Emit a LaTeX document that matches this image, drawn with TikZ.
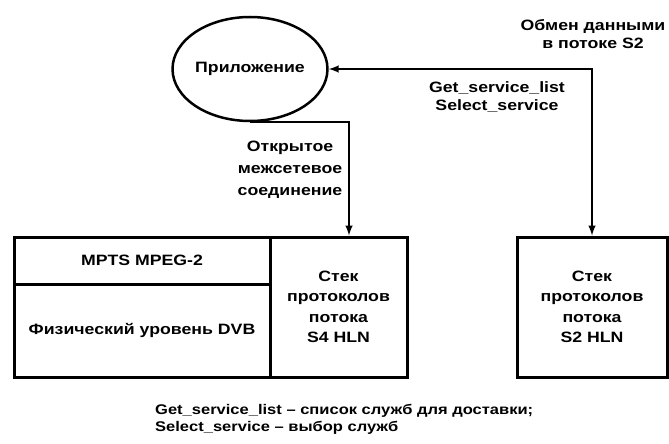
\documentclass[tikz,border=0pt]{standalone}
\usepackage{fontspec}
\setmainfont{Liberation Sans}[FakeStretch=1.18]
\usetikzlibrary{arrows,shapes,positioning}
\tikzstyle{app}=[ellipse,draw,line width=2.5pt,minimum width=143pt,minimum height=104pt,inner sep=0pt]
\tikzstyle{cell}=[rectangle,draw,line width=3pt,align=center,inner sep=0pt]
\tikzstyle{caption}=[align=center,inner sep=0pt]
\tikzstyle{edge}=[draw,line width=2.4pt,-latex]

\begin{document}
\begin{tikzpicture}[x=1pt,y=-1pt,font=\fontsize{15}{19}\selectfont\bfseries]
    \useasboundingbox (0,0) rectangle (669,444);
    % The application
    \node[app] (app) at (250,69) {Приложение};
    % Left block: DVB side and S4 stack
    \node[cell,minimum width=256pt,minimum height=47pt] (mpts) at (142,260.5) {MPTS MPEG-2};
    \node[cell,minimum width=256pt,minimum height=93pt] (phy) at (142,330.5) {Физический уровень DVB};
    \node[cell,minimum width=137pt,minimum height=140pt,font=\fontsize{15}{20.5}\selectfont\bfseries] (s4) at (338.5,307) {Стек\\протоколов\\потока\\S4 HLN};
    % Right block: S2 stack
    \node[cell,minimum width=150pt,minimum height=140pt,font=\fontsize{15}{20.5}\selectfont\bfseries] (s2) at (592,307) {Стек\\протоколов\\потока\\S2 HLN};
    % Labels
    \node[caption,font=\fontsize{15}{18}\selectfont\bfseries] (xchg) at (593,34) {Обмен данными\\в потоке S2};
    \node[caption,font=\fontsize{15}{17.5}\selectfont\bfseries] (calls) at (497,97) {Get\_service\_list\\Select\_service};
    \node[caption,font=\fontsize{15}{22}\selectfont\bfseries] (open) at (290,170) {Открытое\\межсетевое\\соединение};
    \node[caption,align=left,anchor=north west,font=\fontsize{14}{17}\selectfont\bfseries] (note) at (155,404)
        {Get\_service\_list -- список служб для доставки;\\Select\_service -- выбор служб};
    % Connectors
    \path[edge,latex-latex] (app.east) -| (s2.north);
    \path[edge] (app.south) -| ([xshift=10.5pt]s4.north);
\end{tikzpicture}
\end{document}
